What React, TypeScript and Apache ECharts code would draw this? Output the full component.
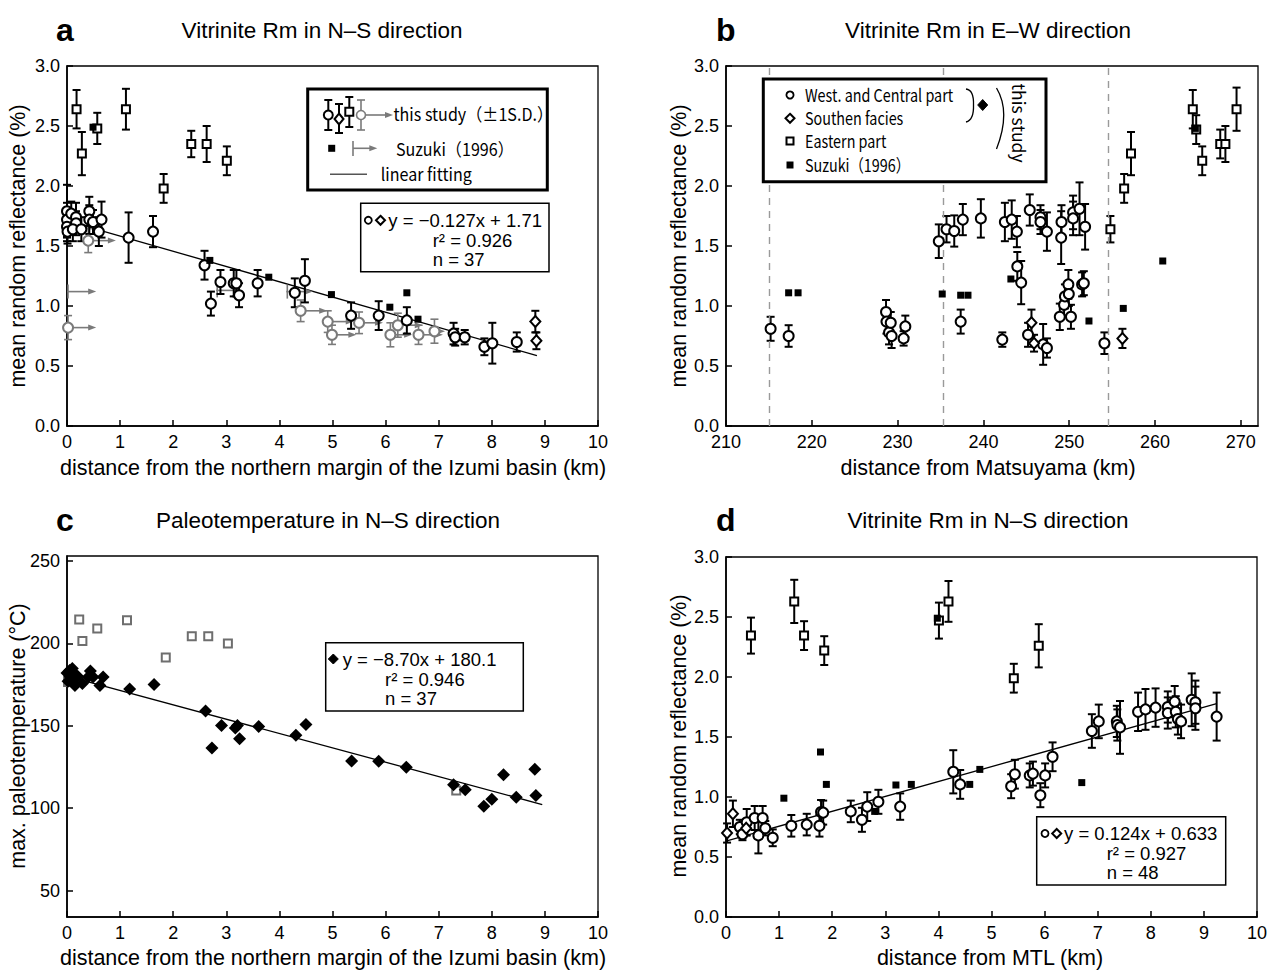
import React, { useEffect, useRef } from 'react';
import * as echarts from 'echarts';

// ---------- panel a: vitrinite Rm vs distance from northern margin (km) ----------
// [distance, Rm, 1 S.D.]
const aCircles = [
  [0.0, 1.79, 0.22], [0.0, 1.72, 0.14], [0.0, 1.66, 0.12], [0.01, 1.62, 0.1], [0.08, 1.77, 0.1],
  [0.17, 1.74, 0.12], [0.17, 1.69, 0.1], [0.11, 1.64, 0.1], [0.27, 1.64, 0.1], [0.42, 1.79, 0.12],
  [0.42, 1.72, 0.12], [0.49, 1.7, 0.1], [0.6, 1.62, 0.12], [0.65, 1.72, 0.15], [1.16, 1.57, 0.21],
  [1.62, 1.62, 0.13], [2.59, 1.34, 0.12], [2.71, 1.02, 0.1], [2.89, 1.2, 0.1], [3.14, 1.19, 0.11],
  [3.19, 1.19, 0.11], [3.24, 1.09, 0.1], [3.59, 1.19, 0.11], [4.29, 1.11, 0.12], [4.48, 1.21, 0.18],
  [5.35, 0.92, 0.11], [5.87, 0.92, 0.12], [6.4, 0.88, 0.11], [7.28, 0.77, 0.09], [7.31, 0.74, 0.07],
  [7.49, 0.74, 0.06], [7.86, 0.66, 0.07], [8.01, 0.69, 0.17], [8.47, 0.7, 0.08],
];
const aDiamonds = [[8.82, 0.87, 0.09], [8.84, 0.71, 0.07]];
const aEastern = [
  [0.18, 2.64, 0.16], [0.28, 2.27, 0.18], [0.57, 2.48, 0.13], [1.11, 2.64, 0.17],
  [1.82, 1.98, 0.12], [2.34, 2.35, 0.11], [2.63, 2.35, 0.15], [3.01, 2.21, 0.12],
];
// minimum-distance samples: [distance, Rm, 1 S.D., arrow end]
const aGray = [
  [0.02, 0.82, 0.1, 0.55], [0.4, 1.545, 0.1, 0.92], [4.4, 0.96, 0.09, 4.9], [4.91, 0.87, 0.09, 5.4],
  [4.99, 0.76, 0.08, 5.45], [5.5, 0.86, 0.09, 5.95], [6.09, 0.76, 0.1, 6.5], [6.23, 0.84, 0.1, 6.7],
  [6.62, 0.76, 0.08, 7.08], [6.92, 0.79, 0.1, 7.12],
];
const aSuzuki = [[0.49, 2.49], [2.69, 1.38], [3.8, 1.24], [4.98, 1.095], [6.08, 0.99], [6.4, 1.11], [6.61, 0.89]];
// Suzuki (1996) distance ranges: [start, Rm, arrow end]
const aSuzukiRange = [[0.0, 1.12, 0.55], [2.81, 1.13, 3.3], [4.13, 1.12, 4.63]];
const aFit = [-0.127, 1.71, 0, 8.85]; // slope, intercept, from, to
const aStats = ['0.926', '37'];

// ---------- panel b: vitrinite Rm vs distance from Matsuyama (km) ----------
const bCircles = [
  [215.2, 0.81, 0.1], [217.3, 0.75, 0.09], [228.65, 0.95, 0.1], [228.7, 0.87, 0.1], [229.0, 0.78, 0.1],
  [229.2, 0.86, 0.09], [229.3, 0.75, 0.1], [230.7, 0.73, 0.06], [230.9, 0.83, 0.09], [234.8, 1.54, 0.14],
  [235.7, 1.64, 0.11], [236.6, 1.625, 0.13], [237.6, 1.72, 0.13], [237.35, 0.87, 0.1], [239.7, 1.73, 0.16],
  [242.2, 0.72, 0.06], [242.5, 1.7, 0.16], [243.3, 1.72, 0.16], [243.9, 1.62, 0.13], [243.95, 1.33, 0.12],
  [244.4, 1.195, 0.18], [245.4, 1.8, 0.13], [245.2, 0.76, 0.1], [246.65, 1.74, 0.1], [246.65, 1.7, 0.1],
  [246.96, 0.68, 0.17], [247.4, 0.65, 0.08], [247.4, 1.62, 0.16], [248.9, 0.91, 0.11], [249.06, 1.57, 0.22],
  [249.1, 1.7, 0.14], [249.4, 1.01, 0.09], [249.5, 1.08, 0.1], [249.9, 1.18, 0.12], [249.95, 1.1, 0.1],
  [250.2, 0.91, 0.1], [250.45, 1.78, 0.14], [250.45, 1.73, 0.14], [251.2, 1.81, 0.22], [251.5, 1.18, 0.1],
  [251.7, 1.19, 0.1], [251.85, 1.66, 0.19], [254.1, 0.69, 0.09],
];
const bDiamonds = [[245.6, 0.86, 0.11], [245.9, 0.69, 0.07], [256.2, 0.73, 0.08]];
const bEastern = [
  [254.8, 1.64, 0.11], [256.4, 1.98, 0.12], [257.2, 2.27, 0.18], [264.4, 2.64, 0.16], [264.8, 2.47, 0.12],
  [265.5, 2.21, 0.12], [267.6, 2.35, 0.12], [268.2, 2.35, 0.15], [269.5, 2.64, 0.18],
];
const bSuzuki = [
  [217.3, 1.11], [218.4, 1.11], [235.2, 1.1], [237.35, 1.09], [238.2, 1.09], [243.2, 1.225],
  [252.3, 0.875], [256.3, 0.98], [260.9, 1.375], [264.7, 2.48],
];
const bBoundaries = [215, 235.3, 254.6];

// ---------- panel c: max. paleotemperature (°C) vs distance (km) ----------
const cDiamonds = [
  [0.0, 182], [0.1, 184.7], [0.05, 180], [0.02, 177], [0.08, 178.5], [0.05, 183.5], [0.15, 174.5],
  [0.16, 180.6], [0.2, 180], [0.29, 175.6], [0.44, 183.2], [0.4, 179.6], [0.49, 179.6], [0.62, 174.5],
  [0.68, 179.6], [1.18, 172.3], [1.64, 175.1], [2.61, 159], [2.73, 136.5], [2.91, 150.2], [3.17, 148.6],
  [3.21, 150.2], [3.25, 142.2], [3.61, 149.6], [4.31, 144.2], [4.5, 150.8], [5.36, 128.6], [5.87, 128.5],
  [6.39, 124.9], [7.28, 114.2], [7.5, 111.2], [7.85, 101.2], [8.0, 105.5], [8.22, 120.3], [8.46, 106.7],
  [8.81, 123.7], [8.83, 107.7],
];
const cEastern = [
  [0.02, 176.5], [0.23, 214.5], [0.29, 201.5], [0.57, 209], [1.13, 214], [1.86, 191.4],
  [2.35, 204.3], [2.66, 204.3], [3.03, 199.9], [7.33, 110.8],
];
const cFit = [-8.7, 180.1, 0, 8.95];
const cStats = ['0.946', '37'];

// ---------- panel d: vitrinite Rm vs distance from MTL (km) ----------
const dCircles = [
  [0.26, 0.75, 0.06], [0.31, 0.69, 0.05], [0.39, 0.79, 0.11], [0.54, 0.825, 0.1], [0.61, 0.68, 0.15],
  [0.69, 0.825, 0.1], [0.74, 0.74, 0.06], [0.88, 0.66, 0.07], [1.23, 0.76, 0.09], [1.52, 0.77, 0.09],
  [1.76, 0.76, 0.09], [1.79, 0.875, 0.1], [1.83, 0.87, 0.1], [2.35, 0.88, 0.09], [2.56, 0.81, 0.1],
  [2.66, 0.92, 0.12], [2.87, 0.96, 0.1], [3.28, 0.92, 0.11], [4.28, 1.21, 0.18], [4.41, 1.105, 0.12],
  [5.37, 1.09, 0.1], [5.44, 1.19, 0.12], [5.72, 1.18, 0.1], [5.78, 1.195, 0.1], [5.92, 1.015, 0.1],
  [6.01, 1.18, 0.1], [6.15, 1.335, 0.12], [6.89, 1.55, 0.14], [7.02, 1.63, 0.14], [7.36, 1.63, 0.13],
  [7.37, 1.6, 0.13], [7.42, 1.58, 0.22], [7.76, 1.71, 0.16], [7.9, 1.73, 0.17], [8.09, 1.745, 0.16],
  [8.32, 1.75, 0.13], [8.32, 1.7, 0.13], [8.45, 1.795, 0.13], [8.47, 1.71, 0.13], [8.51, 1.65, 0.13],
  [8.57, 1.63, 0.14], [8.77, 1.81, 0.22], [8.84, 1.79, 0.18], [8.84, 1.74, 0.18], [9.24, 1.67, 0.2],
];
const dDiamonds = [[0.02, 0.7, 0.08], [0.13, 0.86, 0.11], [0.38, 0.74, 0.06]];
const dEastern = [
  [0.47, 2.345, 0.15], [1.285, 2.63, 0.18], [1.47, 2.345, 0.12], [1.85, 2.22, 0.12],
  [4.01, 2.47, 0.15], [4.19, 2.63, 0.17], [5.42, 1.99, 0.12], [5.89, 2.26, 0.18],
];
const dSuzuki = [
  [1.09, 0.99], [1.78, 1.375], [1.89, 1.105], [2.8, 0.88], [3.2, 1.1], [3.49, 1.105],
  [3.98, 2.49], [4.59, 1.105], [4.78, 1.23], [6.7, 1.12],
];
const dFit = [0.124, 0.633, 0, 9.24];
const dStats = ['0.927', '48'];

// ---------- axis ticks ----------
const kmTicks = [0, 1, 2, 3, 4, 5, 6, 7, 8, 9, 10];
const matsuyamaTicks = [210, 220, 230, 240, 250, 260, 270];
const rmTicks = [0, 0.5, 1, 1.5, 2, 2.5, 3];
const tempTicks = [50, 100, 150, 200, 250];

const SANS = '"Liberation Sans", Arial, Helvetica, sans-serif';
const JP = '"Noto Sans CJK JP", "Noto Sans", sans-serif';
const GRAY = '#7a7a7a';

const fmtEq = (k: number, b: number, dk: number, db: number) =>
  `y = ${k < 0 ? '\u2212' : ''}${Math.abs(k).toFixed(dk)}x + ${b.toFixed(db)}`;

// vertical error bar with caps
const errorBarItem = (color: string, width: number, cap: number) => (_p: any, api: any) => {
  const x = api.value(0);
  const y = api.value(1);
  const sd = api.value(2);
  const hi = api.coord([x, y + sd]);
  const lo = api.coord([x, y - sd]);
  const st = { stroke: color, lineWidth: width };
  return {
    type: 'group',
    children: [
      { type: 'line', shape: { x1: hi[0], y1: hi[1], x2: lo[0], y2: lo[1] }, style: st },
      { type: 'line', shape: { x1: hi[0] - cap, y1: hi[1], x2: hi[0] + cap, y2: hi[1] }, style: st },
      { type: 'line', shape: { x1: lo[0] - cap, y1: lo[1], x2: lo[0] + cap, y2: lo[1] }, style: st },
    ],
  };
};

// gray sample: error bar plus arrow toward larger distance
const grayArrowItem = (_p: any, api: any) => {
  const x = api.value(0);
  const y = api.value(1);
  const sd = api.value(2);
  const xe = api.value(3);
  const hi = api.coord([x, y + sd]);
  const lo = api.coord([x, y - sd]);
  const p = api.coord([x, y]);
  const e = api.coord([xe, y]);
  const st = { stroke: GRAY, lineWidth: 1.6 };
  const cap = 4;
  return {
    type: 'group',
    children: [
      { type: 'line', shape: { x1: hi[0], y1: hi[1], x2: lo[0], y2: lo[1] }, style: st },
      { type: 'line', shape: { x1: hi[0] - cap, y1: hi[1], x2: hi[0] + cap, y2: hi[1] }, style: st },
      { type: 'line', shape: { x1: lo[0] - cap, y1: lo[1], x2: lo[0] + cap, y2: lo[1] }, style: st },
      { type: 'line', shape: { x1: p[0], y1: p[1], x2: e[0] - 6, y2: e[1] }, style: st },
      { type: 'polygon', shape: { points: [[e[0], e[1]], [e[0] - 8, e[1] - 3], [e[0] - 8, e[1] + 3]] }, style: { fill: GRAY } },
    ],
  };
};

// Suzuki (1996) range: start tick, line and arrowhead
const rangeArrowItem = (_p: any, api: any) => {
  const x = api.value(0);
  const y = api.value(1);
  const xe = api.value(2);
  const p = api.coord([x, y]);
  const e = api.coord([xe, y]);
  const st = { stroke: GRAY, lineWidth: 1.6 };
  return {
    type: 'group',
    children: [
      { type: 'line', shape: { x1: p[0] + 1, y1: p[1] - 7, x2: p[0] + 1, y2: p[1] + 7 }, style: st },
      { type: 'line', shape: { x1: p[0], y1: p[1], x2: e[0] - 6, y2: e[1] }, style: st },
      { type: 'polygon', shape: { points: [[e[0], e[1]], [e[0] - 8, e[1] - 3], [e[0] - 8, e[1] + 3]] }, style: { fill: GRAY } },
    ],
  };
};

const errSeries = (idx: number, data: number[][]) => ({
  type: 'custom',
  xAxisIndex: idx,
  yAxisIndex: idx,
  dimensions: ['x', 'y', 'sd'],
  encode: { x: 0, y: 1 },
  data,
  renderItem: errorBarItem('#000', 2, 4),
  silent: true,
  z: 3,
});

const openMarker = (idx: number, data: number[][], symbol: string, size: any, color = '#000') => ({
  type: 'scatter',
  xAxisIndex: idx,
  yAxisIndex: idx,
  data: data.map((d) => [d[0], d[1]]),
  symbol,
  symbolSize: size,
  itemStyle: { color: '#fff', borderColor: color, borderWidth: 2, opacity: 1 },
  silent: true,
  z: 5,
});

const filledMarker = (idx: number, data: number[][], symbol: string, size: number) => ({
  type: 'scatter',
  xAxisIndex: idx,
  yAxisIndex: idx,
  data,
  symbol,
  symbolSize: size,
  itemStyle: { color: '#000', opacity: 1 },
  silent: true,
  z: 6,
});

const fitSeries = (idx: number, fit: number[]) => {
  const [k, b, x0, x1] = fit;
  return {
    type: 'line',
    xAxisIndex: idx,
    yAxisIndex: idx,
    data: [[x0, k * x0 + b], [x1, k * x1 + b]],
    symbol: 'none',
    lineStyle: { color: '#000', width: 1.3 },
    silent: true,
    z: 2,
  };
};

const axisBase = (gridIndex: number, min: number, max: number, ticks: number[], digits: number) => ({
  type: 'value',
  gridIndex,
  min,
  max,
  axisLine: { show: true, onZero: false, lineStyle: { color: '#000', width: 1.6 } },
  axisTick: { show: true, inside: true, length: 6, customValues: ticks, lineStyle: { color: '#000', width: 1.5 } },
  axisLabel: {
    show: true,
    customValues: ticks,
    color: '#000',
    fontSize: 18,
    fontFamily: SANS,
    margin: 7,
    formatter: (v: number) => v.toFixed(digits),
  },
  splitLine: { show: false },
});

// ---------- static texts ----------
const txt = (x: number, y: number, text: string, font: string, align = 'left', extra: any = {}) => ({
  type: 'text',
  x,
  y,
  z: 100,
  ...extra,
  style: {
    text,
    font,
    fill: '#000',
    align,
    textAlign: align,
    verticalAlign: 'middle',
    textVerticalAlign: 'middle',
  },
});

const line = (x1: number, y1: number, x2: number, y2: number, stroke = '#000', lineWidth = 2) => ({
  type: 'line',
  z: 100,
  shape: { x1, y1, x2, y2 },
  style: { stroke, lineWidth },
});

const box = (x: number, y: number, w: number, h: number, lw: number) => ({
  type: 'rect',
  z: 99,
  shape: { x, y, width: w, height: h },
  style: { fill: '#fff', stroke: '#000', lineWidth: lw },
});

const circ = (cx: number, cy: number, r: number, stroke = '#000', lw = 2) => ({
  type: 'circle',
  z: 101,
  shape: { cx, cy, r },
  style: { fill: '#fff', stroke, lineWidth: lw },
});

const diamond = (cx: number, cy: number, w: number, h: number, filled = false) => ({
  type: 'polygon',
  z: 101,
  shape: { points: [[cx, cy - h / 2], [cx + w / 2, cy], [cx, cy + h / 2], [cx - w / 2, cy]] },
  style: { fill: filled ? '#000' : '#fff', stroke: '#000', lineWidth: filled ? 1 : 2 },
});

const square = (cx: number, cy: number, s: number, filled = false) => ({
  type: 'rect',
  z: 101,
  shape: { x: cx - s / 2, y: cy - s / 2, width: s, height: s },
  style: { fill: filled ? '#000' : '#fff', stroke: '#000', lineWidth: filled ? 0 : 2 },
});

const legendBar = (x: number, y1: number, y2: number, color = '#000', lw = 2) => [
  line(x, y1, x, y2, color, lw),
  line(x - 4, y1, x + 4, y1, color, lw),
  line(x - 4, y2, x + 4, y2, color, lw),
];

const arrowHead = (x: number, y: number) => ({
  type: 'polygon',
  z: 101,
  shape: { points: [[x, y], [x - 8, y - 3], [x - 8, y + 3]] },
  style: { fill: GRAY },
});

const eqBox = (x: number, y: number, w: number, h: number, fit: number[], dk: number, db: number, stats: string[], markers: any[], tx: number, sx: number) => [
  box(x, y, w, h, 1.5),
  ...markers,
  txt(tx, y + 17, fmtEq(fit[0], fit[1], dk, db), `18.5px ${SANS}`),
  txt(sx, y + 37, `r\u00b2 = ${stats[0]}`, `18.5px ${SANS}`),
  txt(sx, y + 56, `n = ${stats[1]}`, `18.5px ${SANS}`),
];

const buildGraphics = () => {
  const title = `22.5px ${SANS}`;
  const letter = `bold 32px ${SANS}`;
  const axisName = `21.5px ${SANS}`;
  const els: any[] = [
    // panel letters and titles
    txt(56, 30, 'a', letter), txt(322, 30, 'Vitrinite Rm in N\u2013S direction', title, 'center'),
    txt(716, 30, 'b', letter), txt(988, 30, 'Vitrinite Rm in E\u2013W direction', title, 'center'),
    txt(56, 520, 'c', letter), txt(328, 520, 'Paleotemperature in N\u2013S direction', title, 'center'),
    txt(716, 520, 'd', letter), txt(988, 520, 'Vitrinite Rm in N\u2013S direction', title, 'center'),
    // axis names
    txt(18, 246, 'mean random reflectance (%)', axisName, 'center', { rotation: Math.PI / 2 }),
    txt(679, 246, 'mean random reflectance (%)', axisName, 'center', { rotation: Math.PI / 2 }),
    txt(18, 736, 'max. paleotemperature (\u00b0C)', axisName, 'center', { rotation: Math.PI / 2 }),
    txt(679, 736, 'mean random reflectance (%)', axisName, 'center', { rotation: Math.PI / 2 }),
    txt(333, 468, 'distance from the northern margin of the Izumi basin (km)', axisName, 'center'),
    txt(988, 468, 'distance from Matsuyama (km)', axisName, 'center'),
    txt(333, 958, 'distance from the northern margin of the Izumi basin (km)', axisName, 'center'),
    txt(990, 958, 'distance from MTL (km)', axisName, 'center'),
  ];

  // legend of panel a
  const lg = `17.5px ${JP}`;
  els.push(box(307.7, 89, 239.6, 101, 3));
  els.push(...legendBar(328.3, 100, 130), circ(328.3, 115, 4.5));
  els.push(...legendBar(339, 104, 133), diamond(339, 119, 9, 11));
  els.push(...legendBar(349.3, 97, 127), square(349.3, 111.7, 8));
  els.push(...legendBar(361, 100, 130, GRAY, 1.6), circ(361, 115, 4.5, GRAY, 1.6));
  els.push(line(366, 115, 386, 115, GRAY, 1.6), arrowHead(393, 115));
  els.push(txt(393.5, 113.5, 'this study\uff08\u00b11S.D.\uff09', lg, 'left', { scaleX: 0.92 }));
  els.push(square(331.7, 148.3, 7, true));
  els.push(line(353, 141, 353, 156, GRAY, 1.6), line(353, 148.3, 370, 148.3, GRAY, 1.6), arrowHead(377.3, 148.3));
  els.push(txt(396, 148.5, 'Suzuki\uff081996\uff09', lg, 'left', { scaleX: 0.92 }));
  els.push(line(330, 174.3, 367, 174.3, '#555', 1.5));
  els.push(txt(380.7, 173.5, 'linear fitting', lg, 'left', { scaleX: 0.92 }));

  // regression boxes
  els.push(...eqBox(360.7, 203.3, 188.3, 68.4, aFit, 3, 2, aStats,
    [circ(368.3, 220.3, 3.5, '#000', 1.8), diamond(380.5, 220.3, 9, 9)], 388.3, 432.7));
  els.push(...eqBox(325.7, 642.7, 197.6, 68.3, cFit, 2, 1, cStats,
    [diamond(333.3, 659, 10, 10, true)], 342.7, 385));
  els.push(...eqBox(1036.7, 816.7, 189, 68.3, dFit, 3, 3, dStats,
    [circ(1045, 833.5, 3.5, '#000', 1.8), diamond(1056.7, 833.5, 9, 9)], 1064, 1106.7));

  // legend of panel b
  const lb = `17.5px ${JP}`;
  els.push(box(763.3, 79, 282.7, 102.7, 3));
  els.push(circ(790, 95, 3.6, '#000', 1.8), diamond(790, 118.3, 9, 9), square(790, 141, 7), square(790, 165, 7, true));
  els.push(txt(805, 94, 'West. and Central part', lb, 'left', { scaleX: 0.82 }));
  els.push(txt(805, 117.5, 'Southen facies', lb, 'left', { scaleX: 0.82 }));
  els.push(txt(805, 140.5, 'Eastern part', lb, 'left', { scaleX: 0.82 }));
  els.push(txt(805, 164.5, 'Suzuki\uff081996\uff09', lb, 'left', { scaleX: 0.82 }));
  els.push({
    type: 'bezierCurve', z: 101,
    shape: { x1: 966, y1: 89, cpx1: 974, cpy1: 90, x2: 973.5, y2: 105 },
    style: { stroke: '#000', lineWidth: 1.3, fill: 'none' },
  });
  els.push({
    type: 'bezierCurve', z: 101,
    shape: { x1: 973.5, y1: 105, cpx1: 974, cpy1: 120, x2: 966, y2: 122 },
    style: { stroke: '#000', lineWidth: 1.3, fill: 'none' },
  });
  els.push(diamond(982.7, 105, 10, 11, true));
  els.push({
    type: 'bezierCurve', z: 101,
    shape: { x1: 996.5, y1: 88, cpx1: 1011, cpy1: 112, x2: 996.5, y2: 149 },
    style: { stroke: '#000', lineWidth: 1.3, fill: 'none' },
  });
  els.push(txt(1019.5, 123, 'this study', lb, 'center', { rotation: -Math.PI / 2 }));
  return els;
};

const buildOption = () => ({
  animation: false,
  backgroundColor: '#fff',
  grid: [
    { left: 67, top: 66, width: 531, height: 360, show: true, borderColor: '#000', borderWidth: 1.3 },
    { left: 726, top: 66, width: 532, height: 360, show: true, borderColor: '#000', borderWidth: 1.3 },
    { left: 67, top: 556, width: 531, height: 361, show: true, borderColor: '#000', borderWidth: 1.3 },
    { left: 726, top: 557, width: 531, height: 360, show: true, borderColor: '#000', borderWidth: 1.3 },
  ],
  xAxis: [
    axisBase(0, 0, 10, kmTicks, 0),
    axisBase(1, 210, 272, matsuyamaTicks, 0),
    axisBase(2, 0, 10, kmTicks, 0),
    axisBase(3, 0, 10, kmTicks, 0),
  ],
  yAxis: [
    axisBase(0, 0, 3, rmTicks, 1),
    axisBase(1, 0, 3, rmTicks, 1),
    axisBase(2, 34, 253, tempTicks, 0),
    axisBase(3, 0, 3, rmTicks, 1),
  ],
  series: [
    // panel a
    fitSeries(0, aFit),
    {
      type: 'custom', xAxisIndex: 0, yAxisIndex: 0, dimensions: ['x', 'y', 'sd', 'xe'], encode: { x: 0, y: 1 },
      data: aGray, renderItem: grayArrowItem, silent: true, z: 3,
    },
    {
      type: 'custom', xAxisIndex: 0, yAxisIndex: 0, dimensions: ['x', 'y', 'xe'], encode: { x: 0, y: 1 },
      data: aSuzukiRange, renderItem: rangeArrowItem, silent: true, z: 3,
    },
    openMarker(0, aGray, 'circle', 10, GRAY),
    errSeries(0, aEastern),
    errSeries(0, aCircles),
    errSeries(0, aDiamonds),
    openMarker(0, aEastern, 'rect', 8),
    openMarker(0, aCircles, 'circle', 10),
    openMarker(0, aDiamonds, 'diamond', [10, 11]),
    filledMarker(0, aSuzuki, 'rect', 7),
    // panel b
    {
      type: 'scatter', xAxisIndex: 1, yAxisIndex: 1, data: [], silent: true,
      markLine: {
        silent: true, symbol: 'none', label: { show: false }, animation: false,
        lineStyle: { color: '#9a9a9a', width: 1.4, type: [7, 6] },
        data: bBoundaries.map((v) => ({ xAxis: v })),
      },
    },
    errSeries(1, bCircles),
    errSeries(1, bDiamonds),
    errSeries(1, bEastern),
    openMarker(1, bCircles, 'circle', 10),
    openMarker(1, bDiamonds, 'diamond', [10, 11]),
    openMarker(1, bEastern, 'rect', 8),
    filledMarker(1, bSuzuki, 'rect', 7),
    // panel c
    fitSeries(2, cFit),
    {
      type: 'scatter', xAxisIndex: 2, yAxisIndex: 2, data: cEastern, symbol: 'rect', symbolSize: 8,
      itemStyle: { color: '#fff', borderColor: '#6e6e6e', borderWidth: 2, opacity: 1 }, silent: true, z: 4,
    },
    filledMarker(2, cDiamonds, 'diamond', 13),
    // panel d
    fitSeries(3, dFit),
    errSeries(3, dEastern),
    errSeries(3, dCircles),
    errSeries(3, dDiamonds),
    openMarker(3, dEastern, 'rect', 8),
    openMarker(3, dCircles, 'circle', 10),
    openMarker(3, dDiamonds, 'diamond', [10, 11]),
    filledMarker(3, dSuzuki, 'rect', 7),
  ],
  graphic: { elements: buildGraphics() },
});

export default function App() {
  const ref = useRef<HTMLDivElement | null>(null);
  useEffect(() => {
    if (!ref.current) return;
    const chart = echarts.init(ref.current, undefined, { renderer: 'svg' });
    chart.setOption(buildOption() as any);
    return () => chart.dispose();
  }, []);
  return (
    <div
      ref={ref}
      style={{ position: 'fixed', left: 0, top: 0, width: '1273px', height: '974px', background: '#fff' }}
    />
  );
}
